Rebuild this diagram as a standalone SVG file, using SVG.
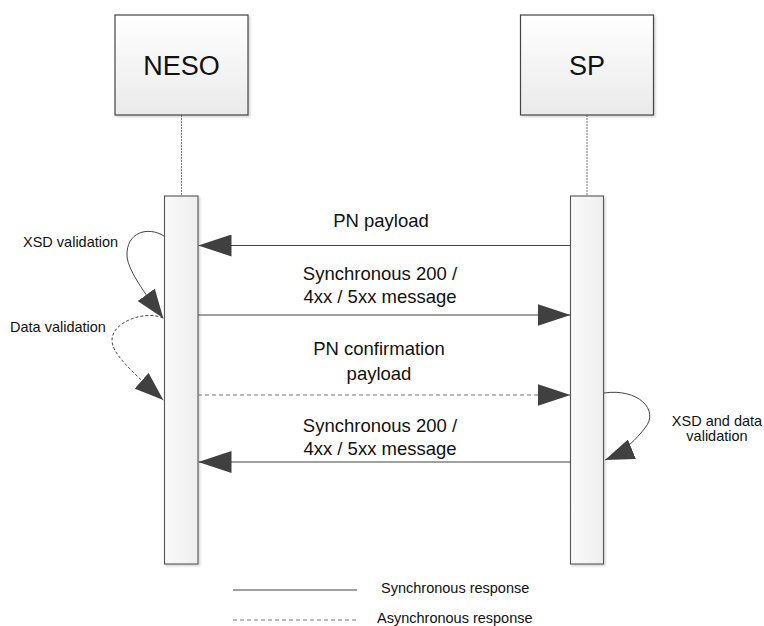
<svg xmlns="http://www.w3.org/2000/svg" width="764" height="626" viewBox="0 0 764 626">
<style>
  text { font-family: "Liberation Sans", Arial, sans-serif; fill: #111; }
  .big { font-size: 27px; text-anchor: middle; }
  .msg { font-size: 18.5px; text-anchor: middle; }
  .small { font-size: 14.5px; }
  .box { fill: url(#gBox); stroke: #444; stroke-width: 1.2; }
  .bar { fill: url(#gBar); stroke: #555; stroke-width: 1.1; }
  .life { stroke: #777; stroke-width: 1; stroke-dasharray: 2 1; fill: none; }
  .sync { stroke: #444; stroke-width: 1.1; fill: none; }
  .async { stroke: #777; stroke-width: 1.1; stroke-dasharray: 4 3; fill: none; }
  .loop { stroke: #444; stroke-width: 1; fill: none; }
  .loopd { stroke: #444; stroke-width: 1; fill: none; stroke-dasharray: 3 2; }
</style>
<defs>
  <linearGradient id="gBox" x1="0" y1="0" x2="0" y2="1">
    <stop offset="0" stop-color="#ffffff"/>
    <stop offset="1" stop-color="#eaeaea"/>
  </linearGradient>
  <linearGradient id="gBar" x1="0" y1="0" x2="1" y2="0">
    <stop offset="0" stop-color="#fafafa"/>
    <stop offset="1" stop-color="#eeeeee"/>
  </linearGradient>
  <marker id="arrow" viewBox="0 0 33 22" refX="33" refY="11" markerWidth="33" markerHeight="22" markerUnits="userSpaceOnUse" orient="auto">
    <path d="M0,0 L33,11 L0,22 z" fill="#404040"/>
  </marker>
  <marker id="arrowS" viewBox="0 0 29 21" refX="29" refY="10.5" markerWidth="29" markerHeight="21" markerUnits="userSpaceOnUse" orient="auto">
    <path d="M0,0 L29,10.5 L0,21 z" fill="#404040"/>
  </marker>
  <filter id="sh" x="-10%" y="-10%" width="120%" height="120%">
    <feDropShadow dx="1.5" dy="1.5" stdDeviation="1" flood-color="#000" flood-opacity="0.18"/>
  </filter>
</defs>

<g id="neso">
  <line class="life" x1="181.5" y1="115" x2="181.5" y2="196"/>
  <rect class="box" x="115" y="15" width="133" height="100" filter="url(#sh)"/>
  <text class="big" x="181.5" y="75">NESO</text>
  <rect class="bar" x="164.5" y="196" width="33.5" height="368" filter="url(#sh)"/>
</g>

<g id="sp">
  <line class="life" x1="587" y1="115" x2="587" y2="196"/>
  <rect class="box" x="520.5" y="15" width="133" height="100" filter="url(#sh)"/>
  <text class="big" x="587" y="75">SP</text>
  <rect class="bar" x="570.5" y="196" width="33" height="368" filter="url(#sh)"/>
</g>

<g id="connectors">
  <line class="sync" x1="570.5" y1="245.5" x2="198.5" y2="245.5" marker-end="url(#arrow)"/>
  <line class="sync" x1="198" y1="315" x2="570.5" y2="315" marker-end="url(#arrow)"/>
  <line class="async" x1="198" y1="395" x2="570.5" y2="395" marker-end="url(#arrow)"/>
  <line class="sync" x1="570.5" y1="462" x2="198.5" y2="462" marker-end="url(#arrow)"/>
  <path class="loop" d="M164,236 C148,226 126,232 127,256 C128,272 150,300 163.3,318.3" marker-end="url(#arrowS)"/>
  <path class="loopd" d="M163,318 C145,310 112,322 112,340 C112,352 125,366 163.3,400" marker-end="url(#arrowS)"/>
  <path class="loop" d="M604,393 C638,388 660,410 645,428 C637,438 625,452 605,460" marker-end="url(#arrowS)"/>
</g>

<g id="labels">
  <text class="msg" x="381" y="226.5">PN payload</text>
  <text class="msg" x="380" y="280">Synchronous 200 /</text>
  <text class="msg" x="380" y="302.5">4xx / 5xx message</text>
  <text class="msg" x="379" y="355">PN confirmation</text>
  <text class="msg" x="379" y="379.5">payload</text>
  <text class="msg" x="380" y="431.5">Synchronous 200 /</text>
  <text class="msg" x="380" y="455">4xx / 5xx message</text>
  <text class="small" x="23" y="246.5">XSD validation</text>
  <text class="small" x="10" y="332">Data validation</text>
  <text class="small" x="717" y="425.5" text-anchor="middle">XSD and data</text>
  <text class="small" x="717" y="440.5" text-anchor="middle">validation</text>
</g>

<g id="legend">
  <line class="sync" x1="233" y1="590" x2="357" y2="590"/>
  <line class="async" x1="233" y1="620" x2="357" y2="620"/>
  <text class="small" x="381" y="593">Synchronous response</text>
  <text class="small" x="377" y="623">Asynchronous response</text>
</g>
</svg>
